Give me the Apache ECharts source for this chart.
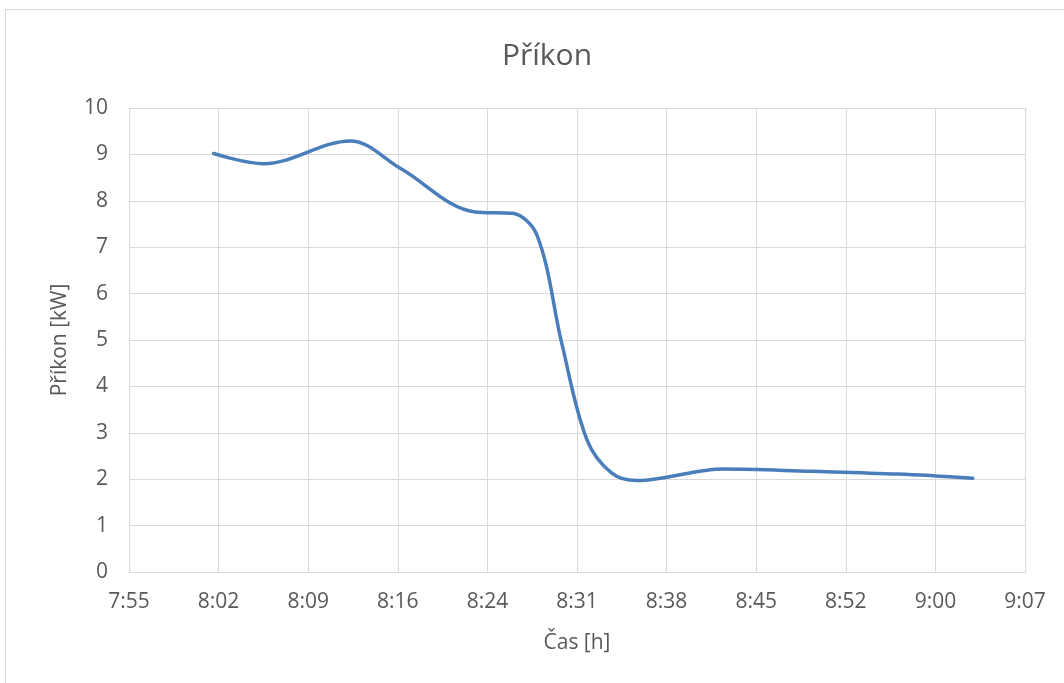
<!DOCTYPE html>
<html>
<head>
<meta charset="utf-8">
<script src="https://cdn.jsdelivr.net/npm/echarts@6/dist/echarts.min.js"></script>
<style>
html,body{margin:0;padding:0;background:#fff;}
#chart{width:1064px;height:683px;}
</style>
</head>
<body>
<div id="chart"></div>
<script>
// ---- data ----
const times = ["8:02","8:06","8:13","8:17","8:23","8:26","8:28","8:30","8:32","8:34","8:36","8:43","8:50","8:57","9:03"];
const power = [9.02, 8.80, 9.29, 8.70, 7.76, 7.73, 7.25, 4.90, 2.85, 2.13, 1.97, 2.22, 2.17, 2.11, 2.02];
const xTickLabels = ["7:55","8:02","8:09","8:16","8:24","8:31","8:38","8:45","8:52","9:00","9:07"];
const yTickLabels = ["0","1","2","3","4","5","6","7","8","9","10"];
const titleText = "Příkon";
const xName = "Čas [h]";
const yName = "Příkon [kW]";

// time axis in seconds; Excel-style tick step 0.005 day = 432 s
const X_MIN = 28512, X_STEP = 432;
const X_MAX = X_MIN + X_STEP * (xTickLabels.length - 1);
function toSec(t){ const p = t.split(':'); return (+p[0])*3600 + (+p[1])*60; }
const seriesData = times.map((t,i)=>[toSec(t), power[i]]);

const FONT = '"Open Sans", "Noto Sans", sans-serif';
const TXT = '#595959';
const GRID = '#d9d9d9';

const chart = echarts.init(document.getElementById('chart'), null, {renderer:'canvas'});
chart.setOption({
  animation:false,
  backgroundColor:'#ffffff',
  title:{
    text:titleText, left:542, top:36, textAlign:'center',
    textStyle:{fontFamily:FONT, fontSize:30, fontWeight:'normal', color:TXT}
  },
  graphic:[{
    type:'rect', silent:true, z:-1,
    shape:{x:5.5, y:9.5, width:1200, height:1000},
    style:{fill:'none', stroke:GRID, lineWidth:1}
  }],
  grid:{left:129, right:39, top:108, height:464, containLabel:false},
  xAxis:{
    type:'value', min:X_MIN, max:X_MAX, interval:X_STEP,
    name:xName, nameLocation:'middle', nameGap:61,
    nameTextStyle:{fontFamily:FONT, fontSize:21, color:TXT},
    axisLine:{show:true, lineStyle:{color:GRID, width:1}},
    axisTick:{show:false},
    axisLabel:{
      fontFamily:FONT, fontSize:21, color:TXT, margin:20,
      formatter:function(v){ const i = Math.round((v - X_MIN)/X_STEP); return xTickLabels[i] || ''; }
    },
    splitLine:{show:true, lineStyle:{color:GRID, width:1}}
  },
  yAxis:{
    type:'value', min:0, max:10, interval:1,
    name:yName, nameLocation:'middle', nameGap:58,
    nameTextStyle:{fontFamily:FONT, fontSize:21, color:TXT},
    axisLine:{show:false},
    axisTick:{show:false},
    axisLabel:{
      fontFamily:FONT, fontSize:21, color:TXT, margin:21,
      formatter:function(v){ return yTickLabels[Math.round(v)]; }
    },
    splitLine:{show:true, lineStyle:{color:GRID, width:1}}
  },
  series:[{
    type:'line', data:seriesData, smooth:0.35, showSymbol:false,
    lineStyle:{color:'#4a7ebb', width:3.5, cap:'round', join:'round'}
  }]
});
</script>
</body>
</html>
